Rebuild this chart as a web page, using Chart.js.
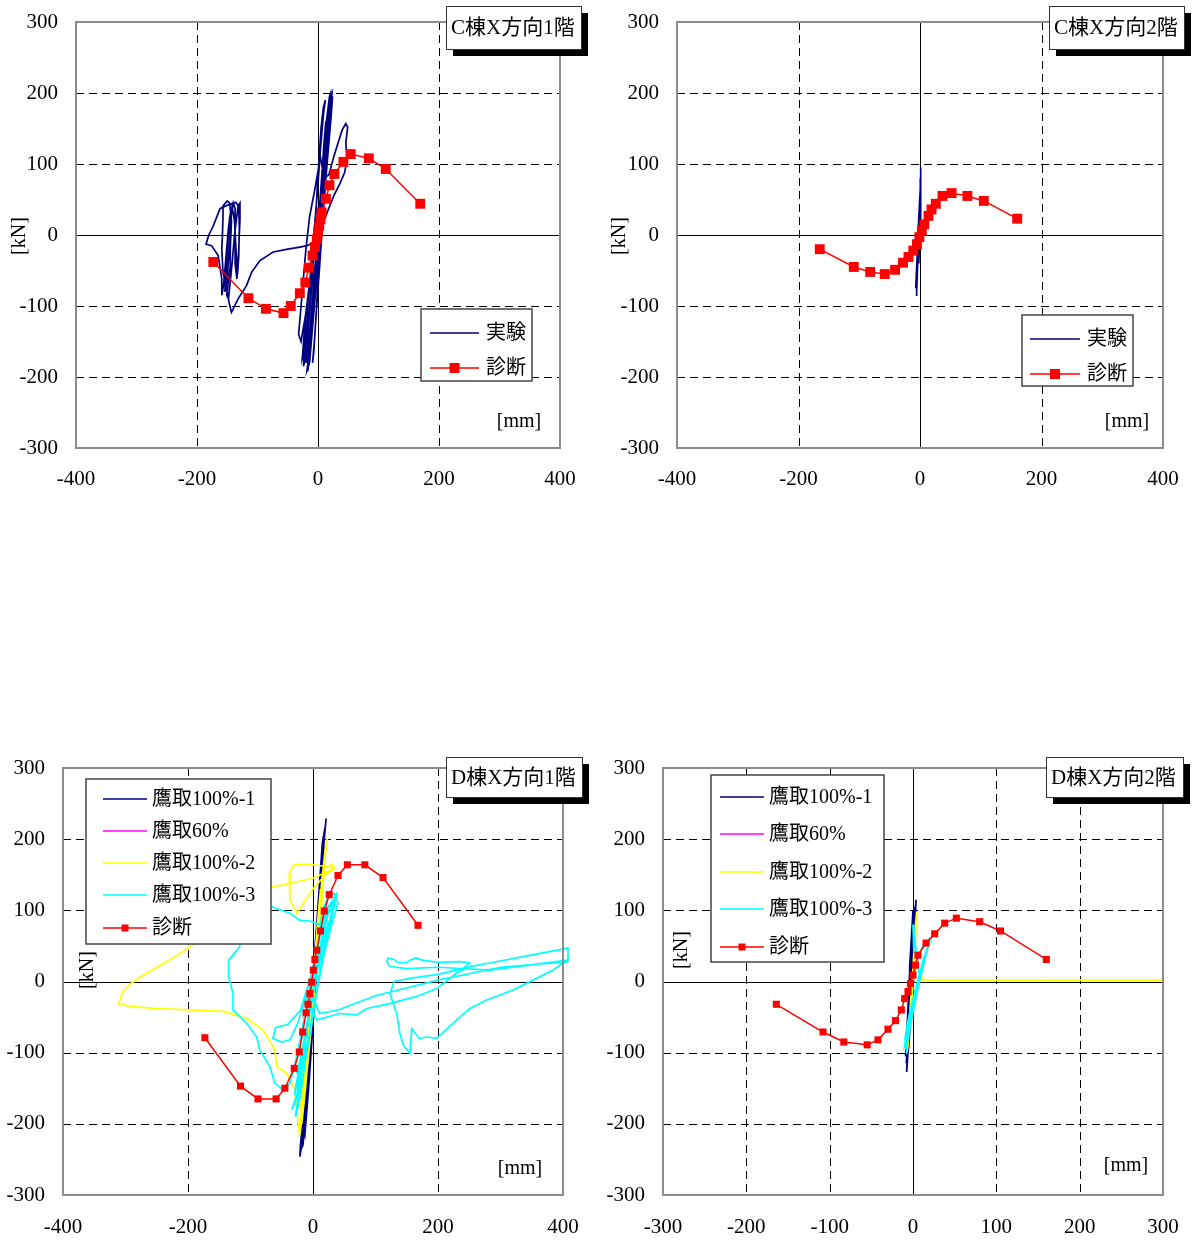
<!DOCTYPE html>
<html lang="ja">
<head>
<meta charset="UTF-8">
<title>荷重-変形関係</title>
<script src="https://cdn.jsdelivr.net/npm/chart.js"></script>
<style>
  body { margin: 0; background: #fff; }
  .page { position: relative; width: 1192px; height: 1242px; }
  .panel { position: absolute; width: 596px; }
</style>
</head>
<body>
<div class="page">
  <div class="panel" style="left:0;top:0;height:500px"><canvas id="chartC1"></canvas></div>
  <div class="panel" style="left:596px;top:0;height:500px"><canvas id="chartC2"></canvas></div>
  <div class="panel" style="left:0;top:740px;height:502px"><canvas id="chartD1"></canvas></div>
  <div class="panel" style="left:596px;top:740px;height:502px"><canvas id="chartD2"></canvas></div>
</div>
<script>
// tick labels
const yTicks = [-300, -200, -100, 0, 100, 200, 300];
const xTicksWide = [-400, -200, 0, 200, 400];
const xTicksNarrow = [-300, -200, -100, 0, 100, 200, 300];

// C棟 1階 [mm, kN]
const expC1 = [
  [0,0],[3,30],[6,70],[4,45],[-2,-20],[-6,-70],[-4,-50],[1,10],
  [6,80],[10,130],[13,160],[11,140],[4,40],[-4,-60],[-10,-130],[-13,-160],[-10,-120],[-2,-20],
  [2,10],[5,45],[7,80],[10,110],[12,135],[15,165],[18,185],[20,195],[19,180],[15,140],[11,100],[6,50],[2,0],
  [-3,-50],[-7,-100],[-11,-140],[-14,-170],[-16,-185],[-13,-165],[-9,-120],[-5,-70],[-1,-20],
  [-4,20],[-1,70],[2,110],[5,150],[9,180],[12,190],[9,170],[4,120],[-1,60],[-6,10],[-12,-50],[-18,-110],
  [-22,-160],[-24,-185],[-20,-170],[-15,-120],[-10,-70],
  [4,0],[8,50],[12,100],[16,140],[20,175],[24,195],[22,170],[18,130],[13,80],[8,20],[3,-40],[-2,-100],
  [-6,-150],[-9,-180],[-7,-165],[-3,-110],[1,-50],
  [8,100],[14,160],[19,195],[21,200],[22,185],[16,130],[8,40],[-2,-60],[-10,-140],[-15,-180],[-17,-192],[-13,-160],[-5,-70],[3,20],
  [10,95],[16,150],[20,190],[23,198],[20,160],[12,70],[4,-10],[-4,-80],[-10,-140],[-16,-170],[-20,-180],[-15,-150],
  [-8,-80],[-1,0],[6,80],[12,140],[17,180],[15,165],[9,100],[2,20],[-6,-60],[-13,-130],[-18,-175],[-14,-170],
  [-7,-100],[0,-20],[7,60],[13,120],[18,170],[20,185],[16,150],[10,80],
  [18,85],[26,110],[34,132],[40,148],[46,157],[49,152],[46,130],[48,106],[44,88],[36,72],[26,55],[18,38],[10,20],[4,0],
  [-4,-50],[-10,-110],[-14,-160],[-18,-190],[-14,-180],[-8,-120],[-2,-50],[4,30],[8,90],[4,110],[-4,70],
  [-14,25],[-20,-20],[-26,-80],[-32,-140],[-28,-150],[-20,-110],[-10,-40],[-6,-10],[-12,-60],[-22,-130],
  [-26,-175],[-22,-165],[-14,-100],[-8,-40],[-2,10],[-6,-10],
  [-18,-15],[-30,-17],[-50,-20],[-74,-24],[-96,-36],[-110,-53],[-118,-71],[-132,-90],[-143,-109],[-147,-95],
  [-151,-76],[-155,-60],[-157,-53],[-159,-20],[-158,-1],[-157,25],[-157,41],[-150,48],[-146,45],[-143,20],
  [-145,-20],[-145,-43],[-151,-85],[-148,-90],[-142,-40],[-138,0],[-132,41],[-129,45],[-129,22],[-131,-20],
  [-134,-62],[-137,-40],[-137,0],[-137,37],[-140,45],[-143,30],[-146,-10],[-150,-60],[-154,-80],[-152,-50],
  [-149,-10],[-146,25],[-142,40],[-138,20],[-135,-30],[-133,-55],[-131,-30],[-130,10],[-131,40],[-136,46],
  [-150,42],[-162,37],[-173,13],[-181,-1],[-185,-13],[-176,-15],[-165,-29],[-159,-62],[-159,-85],[-156,-70],
  [-152,-30],[-148,10],[-144,35]
];
const diagC1 = [
  [-173,-38],[-115,-89],[-86,-104],[-57,-110],[-45,-100],[-30,-82],[-21,-67],[-15,-46],[-9,-29],[-5,-17],[-2,-6],
  [0,4],[2,13],[4,22],[6,32],[13,51],[19,70],[27,86],[42,103],[54,114],[84,108],[112,93],[169,44]
];

// C棟 2階
const expC2 = [
  [0,0],[0.5,20],[1,40],[0,15],[-1,-15],[-2,-40],[-1,-15],[0,15],[1,50],[1.5,75],[1.5,95],[0.5,70],[-1,30],
  [-3,-20],[-4.5,-55],[-5.5,-80],[-6,-86],[-5,-65],[-3,-30],[-1,10],[0.5,50],[1,80],[0,65],[-2,25],[-4,-20],
  [-6,-55],[-7,-75],[-5,-60],[-3,-25],[-1,5],[0,30],[-0.5,45],[-2,20],[-4,-10],[-5,-30]
];
const diagC2 = [
  [-165,-20],[-109,-45],[-82,-52],[-58,-55],[-41,-49],[-28,-39],[-19,-31],[-11,-22],[-5,-13],[-1,-3],
  [3,6],[7,15],[14,27],[19,36],[26,44],[37,55],[52,59],[78,55],[105,48],[160,23]
];

// D棟 1階
const tak1D1 = [
  [0,0],[5,50],[10,110],[6,80],[-2,-10],[-8,-80],[-12,-130],[-6,-70],[2,20],[10,120],[16,190],[20,220],[21,229],
  [18,200],[10,110],[0,-10],[-8,-100],[-15,-180],[-20,-230],[-21,-246],[-17,-225],[-10,-150],[-2,-50],[6,50],
  [13,140],[18,205],[15,195],[6,80],[-4,-40],[-12,-140],[-18,-210],[-14,-190],[-6,-90],[2,10],[8,90],
  [14,160],[19,215],[16,200],[10,130],[2,30],[-6,-70],[-14,-170],[-19,-235],[-16,-230],[-9,-140],[-1,-40],
  [7,60],[12,120],[9,100],[0,0],[-4,-30],[-10,-110],[-16,-200],[-13,-215],[-7,-150],[0,-60],[6,20],[11,90],
  [16,170],[18,190],[12,140],[4,40]
];
const tak60D1 = [[0,0],[3,30],[6,60],[2,20],[-3,-30],[-6,-60],[-2,-20],[1,10]];
const tak2D1 = [
  [0,0],[5,40],[12,110],[18,170],[23,203],[20,180],[10,70],[0,-40],[-10,-130],[-18,-190],[-21,-216],[-16,-180],
  [-6,-70],[4,40],[12,120],[18,160],[24,161],[30,165],[35,159],[10,163],[-10,165],[-31,164],[-38,152],[-37,115],
  [-26,96],[-15,110],[0,130],[20,150],[35,159],[0,145],[-37,138],[-66,133],[-130,95],[-190,53],[-220,35],[-240,25],
  [-271,9],[-290,-2],[-304,-14],[-311,-31],[-293,-35],[-250,-38],[-197,-40],[-143,-42],[-106,-52],[-80,-68],
  [-61,-96],[-58,-120],[-42,-129],[-30,-150],[-25,-190],[-22,-210],[-15,-150],[-5,-50],[5,50],[12,130],[8,90],
  [-2,-20],[-12,-130],[-20,-180],[-10,-100],[0,-20],[8,60],[16,150],[20,190],[14,140],[4,40],[-6,-80],
  [-15,-170],[-18,-200],[-12,-150],[-2,-40],[6,30],[14,110],[19,170],[15,150],[6,60]
];
const tak3D1 = [
  [0,0],[8,50],[15,100],[25,120],[38,124],[30,90],[15,30],[0,-40],[-12,-110],[-20,-160],[-28,-190],[-22,-150],
  [-10,-70],[5,20],[20,90],[35,120],[40,110],[30,80],[18,40],[5,-20],[-8,-90],[-20,-150],[-34,-180],[-26,-160],
  [-15,-110],[-2,-60],[10,10],[22,60],[32,100],[20,70],[8,30],[-6,-40],[-18,-100],[-26,-130],[-18,-110],
  [-6,-50],[6,10],[18,50],[28,90],[36,115],[26,100],[14,60],[2,0],[-10,-60],[-22,-120],[-30,-160],[-24,-140],
  [-12,-80],[0,-20],[12,40],[24,80],[34,105],
  [10,80],[-5,85],[-21,86],[-37,96],[-66,105],[-90,108],[-120,100],[-117,49],
  [-135,30],[-135,7],[-128,-17],[-128,-40],[-106,-59],[-90,-78],[-85,-96],[-69,-120],[-61,-143],[-48,-152],
  [-37,-143],[-30,-120],[-20,-80],[-10,-30],[0,20],[10,60],[20,100],[28,110],[15,60],[-20,-40],[-40,-60],
  [-60,-65],[-64,-80],[-50,-85],[-37,-82],[-25,-60],[-10,-20],[6,-54],[43,-45],[70,-47],[86,-38],[123,-31],
  [166,-21],[198,-10],[230,12],[251,21],[283,26],[336,35],[408,47],[408,30],[283,16],[200,20],[150,18],[123,21],
  [118,28],[120,33],[130,31],[135,27],[150,26],[155,30],[165,33],[175,30],[200,27],[235,28],[251,26],[240,18],
  [200,10],[160,5],[130,0],[123,-17],[134,-45],[139,-73],[145,-90],[155,-101],[158,-66],[170,-80],[182,-78],
  [198,-80],[230,-54],[251,-38],[278,-26],[320,-12],[341,-3],[384,16],[400,26],[408,28],[300,20],[200,2],
  [100,-20],[40,-40],[10,-45],[0,-20]
];
const diagD1 = [
  [-173,-79],[-116,-147],[-88,-165],[-59,-165],[-45,-150],[-30,-122],[-22,-99],[-16.5,-71],[-11,-44],[-8,-32],
  [-5,-17],[-2,-1],[0.5,16],[3,31],[6,44],[12,71],[18,99],[26,122],[40,149],[55,164],[83,164],[112,146],[168,79]
];

// D棟 2階
const tak1D2 = [
  [0,0],[1,20],[2,50],[0.5,20],[-2,-20],[-4,-60],[-2,-30],[0,10],[2,60],[3.6,115],[2,90],[0,40],[-3,-20],
  [-6,-80],[-7.6,-127],[-6,-100],[-3,-40],[0,20],[2,70],[3,100],[1,60],[-2,0],[-5,-60],[-7,-110],[-4,-70],
  [-1,-10],[1,40],[3,90],[2,105],[0,60],[-3,0],[-6,-70],[-8,-115],[-5,-90],[-2,-30],[-4,20],[-1,80],[0,100],
  [-2,60],[-5,-10],[-8,-90],[-9,-105],[-6,-60]
];
const tak60D2 = [[0,0],[1,15],[2,30],[0,5],[-2,-25],[-3,-40],[-1,-10]];
const tak2D2 = [
  [0,0],[1.5,30],[3,60],[4.4,98],[3,80],[0,20],[-3,-30],[-6,-80],[-7.6,-101],[-6,-90],[-3,-40],[0,10],[3,60],
  [4,90],[2,50],[-1,0],[-4,-50],[-7,-95],[-4,-60],[0,-5],[5,30],[9,10],[12,2],[300,2]
];
const tak3D2 = [
  [0,0],[3,20],[8,40],[14,55],[21.6,61],[16,40],[8,10],[0,-25],[-6,-55],[-9.6,-80],[-8,-95],[-5,-70],[0,-35],
  [6,0],[12,30],[18,50],[12,25],[4,-10],[-3,-45],[-8,-75],[-5,-60],[2,-20],[9,15],[15,40],[20,55],[14,35],
  [6,0],[-2,-40],[-7,-70],[-10,-90],[-6,-80],[-1,-50],[5,-15],[11,15],[17,45],[10,20],[2,-15],[-4,-50],[-9,-85],
  [-4,-65],[3,-25],[8,5],[2,60],[0,80],[1,40]
];
const diagD2 = [
  [-164,-32],[-108,-71],[-83,-85],[-55,-89],[-42,-82],[-30,-67],[-21,-55],[-14,-40],[-10,-24],[-6,-14],[-3,-3],
  [0,9],[3,23],[6,37],[15.6,54],[26,67],[38,82],[52,89],[80,84],[105,71],[160,31]
];

const FONT = '"Liberation Serif", "Noto Sans CJK JP", serif';
const NAVY = '#000080', MAGENTA = '#FF00FF', YELLOW = '#FFFF00', CYAN = '#00FFFF', RED = '#FF0000';

function toXY(arr) { return arr.map(p => ({ x: p[0], y: p[1] })); }

function lineSet(label, arr, color, extra) {
  return Object.assign({
    label: label, data: toXY(arr), showLine: true, borderColor: color, backgroundColor: color,
    borderWidth: 1.7, pointRadius: 0, tension: 0
  }, extra || {});
}

function diagSet(arr, r) {
  return lineSet('診断', arr, RED, {
    borderWidth: 1.5, pointRadius: r, pointStyle: 'rect', pointBorderWidth: 0, pointBackgroundColor: RED
  });
}

// draws the grid, frame, title box, legend and unit labels
function makeFrame(p) {
  return {
    id: 'frame',
    beforeDatasetsDraw(chart) {
      const { ctx, chartArea: a, scales: { x, y } } = chart;
      ctx.save();
      ctx.lineWidth = 1;
      ctx.strokeStyle = '#000';
      ctx.setLineDash([8, 5]);
      ctx.beginPath();
      x.ticks.forEach(t => {
        if (t.value === 0 || t.value <= x.min || t.value >= x.max) return;
        const px = Math.round(x.getPixelForValue(t.value)) + 0.5;
        ctx.moveTo(px, a.top); ctx.lineTo(px, a.bottom);
      });
      y.ticks.forEach(t => {
        if (t.value === 0 || t.value <= y.min || t.value >= y.max) return;
        const py = Math.round(y.getPixelForValue(t.value)) + 0.5;
        ctx.moveTo(a.left, py); ctx.lineTo(a.right, py);
      });
      ctx.stroke();
      ctx.setLineDash([]);
      ctx.beginPath();
      const x0 = Math.round(x.getPixelForValue(0)) + 0.5;
      const y0 = Math.round(y.getPixelForValue(0)) + 0.5;
      ctx.moveTo(x0, a.top); ctx.lineTo(x0, a.bottom);
      ctx.moveTo(a.left, y0); ctx.lineTo(a.right, y0);
      ctx.stroke();
      ctx.restore();
    },
    afterDatasetsDraw(chart) {
      const { ctx, chartArea: a } = chart;
      ctx.save();
      // plot frame
      ctx.strokeStyle = '#8c8c8c';
      ctx.lineWidth = 2;
      ctx.strokeRect(a.left, a.top, a.right - a.left, a.bottom - a.top);

      // unit labels
      ctx.fillStyle = '#000';
      ctx.font = '20px ' + FONT;
      ctx.textAlign = 'center';
      ctx.textBaseline = 'middle';
      ctx.fillText('[mm]', p.mm[0], p.mm[1]);
      ctx.save();
      ctx.translate(p.kN[0], p.kN[1]);
      ctx.rotate(-Math.PI / 2);
      ctx.fillText('[kN]', 0, 0);
      ctx.restore();

      // title box with shadow
      const t = p.titleBox;
      ctx.fillStyle = '#000';
      ctx.fillRect(t[0] + 7, t[1] + 7, t[2], t[3]);
      ctx.fillStyle = '#fff';
      ctx.fillRect(t[0], t[1], t[2], t[3]);
      ctx.strokeStyle = '#333';
      ctx.lineWidth = 1;
      ctx.strokeRect(t[0] + 0.5, t[1] + 0.5, t[2], t[3]);
      ctx.fillStyle = '#000';
      ctx.font = '21px ' + FONT;
      ctx.textAlign = 'left';
      ctx.fillText(p.title, t[0] + 5, t[1] + t[3] / 2 + 1);

      // legend
      const L = p.legend;
      ctx.fillStyle = '#fff';
      ctx.fillRect(L.box[0], L.box[1], L.box[2], L.box[3]);
      ctx.strokeStyle = '#444';
      ctx.lineWidth = 1.5;
      ctx.strokeRect(L.box[0], L.box[1], L.box[2], L.box[3]);
      ctx.font = '20px ' + FONT;
      chart.data.datasets.forEach((ds, i) => {
        const ry = L.rows[i];
        ctx.strokeStyle = ds.borderColor;
        ctx.lineWidth = 1.5;
        ctx.beginPath();
        ctx.moveTo(L.line[0], ry); ctx.lineTo(L.line[1], ry);
        ctx.stroke();
        if (ds.pointRadius > 0) {
          const s = L.marker;
          ctx.fillStyle = ds.borderColor;
          ctx.fillRect((L.line[0] + L.line[1]) / 2 - s / 2, ry - s / 2, s, s);
        }
        ctx.fillStyle = '#000';
        ctx.fillText(ds.label, L.textX, ry + 1);
      });
      ctx.restore();
    }
  };
}

function buildChart(id, p) {
  const n = p.series.length;
  p.series.forEach((ds, i) => { ds.order = n - 1 - i; });
  new Chart(document.getElementById(id), {
    type: 'scatter',
    data: { datasets: p.series },
    options: {
      responsive: true,
      maintainAspectRatio: false,
      animation: false,
      events: [],
      layout: { autoPadding: false, padding: { top: p.area.top, right: p.area.right, left: 0, bottom: 0 } },
      plugins: { legend: { display: false }, tooltip: { enabled: false } },
      scales: {
        x: {
          type: 'linear', min: p.xTicks[0], max: p.xTicks[p.xTicks.length - 1],
          afterBuildTicks: s => { s.ticks = p.xTicks.map(v => ({ value: v })); },
          afterFit: s => { s.height = p.area.xAxisH; },
          ticks: { color: '#000', font: { family: FONT, size: 21 }, padding: 0, maxRotation: 0, autoSkip: false },
          grid: { display: false, drawTicks: true, tickLength: p.area.xPad },
          border: { display: false }
        },
        y: {
          type: 'linear', min: -300, max: 300,
          afterBuildTicks: s => { s.ticks = yTicks.map(v => ({ value: v })); },
          afterFit: s => { s.width = p.area.yAxisW; },
          ticks: { color: '#000', font: { family: FONT, size: 21 }, padding: 0, autoSkip: false },
          grid: { display: false, drawTicks: true, tickLength: 18 },
          border: { display: false }
        }
      }
    },
    plugins: [makeFrame(p)]
  });
}

buildChart('chartC1', {
  title: 'C棟X方向1階',
  xTicks: xTicksWide,
  area: { top: 22, right: 36, yAxisW: 76, xAxisH: 52, xPad: 19 },
  series: [lineSet('実験', expC1, NAVY), diagSet(diagC1, 7)],
  titleBox: [446, 6, 135, 43],
  legend: { box: [421, 309, 111, 72], rows: [333, 368], line: [430, 479], textX: 486, marker: 10 },
  mm: [519, 422], kN: [20, 236]
});

buildChart('chartC2', {
  title: 'C棟X方向2階',
  xTicks: xTicksWide,
  area: { top: 22, right: 29, yAxisW: 81, xAxisH: 52, xPad: 19 },
  series: [lineSet('実験', expC2, NAVY), diagSet(diagC2, 7)],
  titleBox: [453, 6, 135, 43],
  legend: { box: [426, 315, 111, 71], rows: [339, 374], line: [434, 484], textX: 491, marker: 10 },
  mm: [531, 422], kN: [24, 236]
});

buildChart('chartD1', {
  title: 'D棟X方向1階',
  xTicks: xTicksWide,
  area: { top: 28, right: 33, yAxisW: 63, xAxisH: 47, xPad: 20 },
  series: [
    lineSet('鷹取100%-1', tak1D1, NAVY),
    lineSet('鷹取60%', tak60D1, MAGENTA),
    lineSet('鷹取100%-2', tak2D1, YELLOW),
    lineSet('鷹取100%-3', tak3D1, CYAN, { clip: { left: 2, top: 2, right: 7, bottom: 2 } }),
    diagSet(diagD1, 5)
  ],
  titleBox: [446, 17, 136, 40],
  legend: { box: [86, 39, 185, 165], rows: [59, 91, 123, 155, 188], line: [103, 147], textX: 152, marker: 7 },
  mm: [520, 429], kN: [88, 230]
});

buildChart('chartD2', {
  title: 'D棟X方向2階',
  xTicks: xTicksNarrow,
  area: { top: 28, right: 29, yAxisW: 67, xAxisH: 47, xPad: 20 },
  series: [
    lineSet('鷹取100%-1', tak1D2, NAVY),
    lineSet('鷹取60%', tak60D2, MAGENTA),
    lineSet('鷹取100%-2', tak2D2, YELLOW),
    lineSet('鷹取100%-3', tak3D2, CYAN),
    diagSet(diagD2, 5)
  ],
  titleBox: [450, 17, 137, 40],
  legend: { box: [115, 35, 173, 187], rows: [57, 94, 132, 169, 207], line: [124, 168], textX: 173, marker: 7 },
  mm: [530, 426], kN: [86, 210]
});
</script>
</body>
</html>
